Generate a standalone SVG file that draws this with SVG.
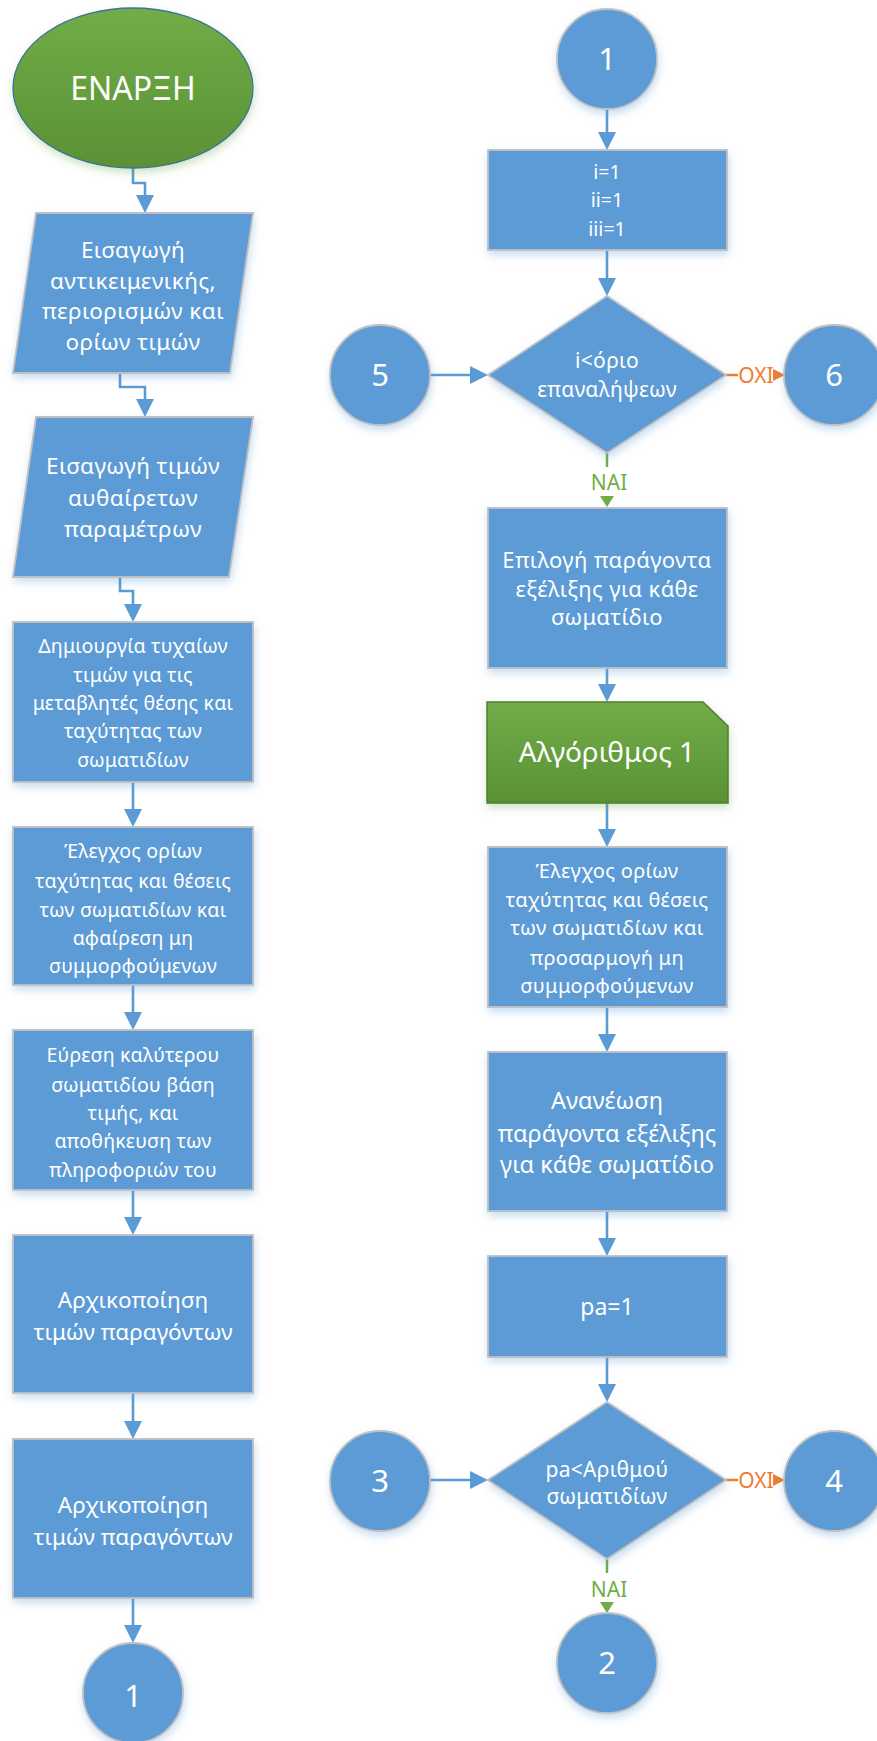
<svg xmlns="http://www.w3.org/2000/svg" width="877" height="1741" viewBox="0 0 877 1741">
<style>
.box{fill:#5B9BD5;stroke:#C0C0C0;stroke-width:1.8;filter:url(#sh)}
.t{fill:#FFFFFF;font-family:"Noto Sans","Open Sans",sans-serif;text-anchor:middle}
.c{fill:none;stroke:#5B9BD5;stroke-width:2.6;marker-end:url(#ab)}
.yes{fill:#70AD47;font-family:"Noto Sans","Open Sans",sans-serif;font-size:21px;text-anchor:middle}
.no{fill:#ED7D31;font-family:"Noto Sans","Open Sans",sans-serif;font-size:21px;text-anchor:middle}
</style>
<defs>
<filter id="sh" x="-20%" y="-20%" width="140%" height="150%">
<feDropShadow dx="1" dy="4" stdDeviation="4" flood-color="#5B9BD5" flood-opacity="0.35"/>
</filter>
<filter id="shg" x="-20%" y="-20%" width="140%" height="150%">
<feDropShadow dx="1" dy="4" stdDeviation="4" flood-color="#70AD47" flood-opacity="0.35"/>
</filter>
<linearGradient id="gg" x1="0" y1="0" x2="0" y2="1">
<stop offset="0" stop-color="#71AD47"/>
<stop offset="1" stop-color="#5A9135"/>
</linearGradient>
<marker id="ab" markerWidth="18" markerHeight="18" refX="2" refY="9" orient="auto" markerUnits="userSpaceOnUse">
<path d="M0,0 L18,9 L0,18 Z" fill="#5B9BD5"/>
</marker>
</defs>
<rect width="877" height="1741" fill="#FFFFFF"/>

<g id="connectors">
<path class="c" d="M133,168 V183 H145 V197"/>
<path class="c" d="M120,373 V387 H145 V401"/>
<path class="c" d="M120,577 V591 H133 V606"/>
<path class="c" d="M133,782 V811"/>
<path class="c" d="M133,985 V1014"/>
<path class="c" d="M133,1190 V1219"/>
<path class="c" d="M133,1393 V1423"/>
<path class="c" d="M133,1598 V1627"/>
<path class="c" d="M607,109 V134"/>
<path class="c" d="M607,250 V280"/>
<path class="c" d="M430,375 H472"/>
<path class="c" d="M607,668 V686"/>
<path class="c" d="M607,803 V831"/>
<path class="c" d="M607,1007 V1036"/>
<path class="c" d="M607,1211 V1240"/>
<path class="c" d="M607,1357 V1386"/>
<path class="c" d="M430,1480 H472"/>
<g id="no1">
<line x1="726" y1="375" x2="738" y2="375" stroke="#ED7D31" stroke-width="2.5"/>
<text class="no" x="756" y="383">OXI</text>
<polygon points="773,369 785,375 773,381" fill="#ED7D31"/>
</g>
<g id="yes1">
<line x1="607" y1="453" x2="607" y2="467" stroke="#70AD47" stroke-width="2.5"/>
<text class="yes" x="609" y="490">NAI</text>
<polygon points="600,496 614,496 607,507" fill="#70AD47"/>
</g>
<g id="no2">
<line x1="726" y1="1480" x2="738" y2="1480" stroke="#ED7D31" stroke-width="2.5"/>
<text class="no" x="756" y="1488">OXI</text>
<polygon points="773,1474 785,1480 773,1486" fill="#ED7D31"/>
</g>
<g id="yes2">
<line x1="607" y1="1559" x2="607" y2="1573" stroke="#70AD47" stroke-width="2.5"/>
<text class="yes" x="609" y="1597">NAI</text>
<polygon points="600,1602 614,1602 607,1613" fill="#70AD47"/>
</g>
</g>

<g id="start">
<ellipse cx="133" cy="88" rx="120" ry="80" fill="url(#gg)" stroke="#41719C" stroke-width="1.3" filter="url(#shg)"/>
<text class="t" x="133" y="100" font-size="32">ΕΝΑΡΞΗ</text>
</g>

<g id="input1">
<polygon class="box" points="36,213 253,213 230,373 13,373"/>
<text class="t" font-size="22.5" letter-spacing="0.4"><tspan x="133" y="258">Εισαγωγή</tspan><tspan x="133" y="289">αντικειμενικής,</tspan><tspan x="133" y="319">περιορισμών και</tspan><tspan x="133" y="350">ορίων τιμών</tspan></text>
</g>

<g id="input2">
<polygon class="box" points="36,417 253,417 229,577 13,577"/>
<text class="t" font-size="22.5" letter-spacing="0.4"><tspan x="133" y="474">Εισαγωγή τιμών</tspan><tspan x="133" y="506">αυθαίρετων</tspan><tspan x="133" y="537">παραμέτρων</tspan></text>
</g>

<g id="random">
<rect class="box" x="13" y="622" width="240" height="160"/>
<text class="t" font-size="19.5" letter-spacing="0.2"><tspan x="133" y="653">Δημιουργία τυχαίων</tspan><tspan x="133" y="682">τιμών για τις</tspan><tspan x="133" y="710">μεταβλητές θέσης και</tspan><tspan x="133" y="738">ταχύτητας των</tspan><tspan x="133" y="767">σωματιδίων</tspan></text>
</g>

<g id="check1">
<rect class="box" x="13" y="827" width="240" height="158"/>
<text class="t" font-size="19.5" letter-spacing="0.2"><tspan x="133" y="858">Έλεγχος ορίων</tspan><tspan x="133" y="888">ταχύτητας και θέσεις</tspan><tspan x="133" y="917">των σωματιδίων και</tspan><tspan x="133" y="945">αφαίρεση μη</tspan><tspan x="133" y="973">συμμορφούμενων</tspan></text>
</g>

<g id="best">
<rect class="box" x="13" y="1030" width="240" height="160"/>
<text class="t" font-size="19.5" letter-spacing="0.2"><tspan x="133" y="1062">Εύρεση καλύτερου</tspan><tspan x="133" y="1092">σωματιδίου βάση</tspan><tspan x="133" y="1120">τιμής, και</tspan><tspan x="133" y="1148">αποθήκευση των</tspan><tspan x="133" y="1177">πληροφοριών του</tspan></text>
</g>

<g id="init1">
<rect class="box" x="13" y="1235" width="240" height="158"/>
<text class="t" font-size="22.5"><tspan x="133" y="1308">Αρχικοποίηση</tspan><tspan x="133" y="1340">τιμών παραγόντων</tspan></text>
</g>

<g id="init2">
<rect class="box" x="13" y="1439" width="240" height="159"/>
<text class="t" font-size="22.5"><tspan x="133" y="1513">Αρχικοποίηση</tspan><tspan x="133" y="1545">τιμών παραγόντων</tspan></text>
</g>

<g id="conn1out">
<circle class="box" cx="133" cy="1693" r="50"/>
<text class="t" x="133" y="1707" font-size="31">1</text>
</g>

<g id="conn1in">
<circle class="box" cx="607" cy="59" r="50"/>
<text class="t" x="607" y="70" font-size="31">1</text>
</g>

<g id="initidx">
<rect class="box" x="488" y="150" width="239" height="100"/>
<text class="t" font-size="19.5"><tspan x="607" y="179">i=1</tspan><tspan x="607" y="207">ii=1</tspan><tspan x="607" y="236">iii=1</tspan></text>
</g>

<g id="dec1">
<path class="box" d="M607,296 L726,375 L607,453 L488,375 Z"/>
<text class="t" font-size="21" letter-spacing="0.3"><tspan x="607" y="368">i&lt;όριο</tspan><tspan x="607" y="397">επαναλήψεων</tspan></text>
</g>

<g id="conn5">
<circle class="box" cx="380" cy="375" r="50"/>
<text class="t" x="380" y="386" font-size="31">5</text>
</g>

<g id="conn6">
<circle class="box" cx="834" cy="375" r="50"/>
<text class="t" x="834" y="386" font-size="31">6</text>
</g>

<g id="select">
<rect class="box" x="488" y="508" width="239" height="160"/>
<text class="t" font-size="22" letter-spacing="0.4"><tspan x="607" y="568">Επιλογή παράγοντα</tspan><tspan x="607" y="597">εξέλιξης για κάθε</tspan><tspan x="607" y="625">σωματίδιο</tspan></text>
</g>

<g id="algo1">
<path d="M487,702 H703 L728,726 V803 H487 Z" fill="url(#gg)" stroke="#507E32" stroke-width="1.5" filter="url(#shg)"/>
<text class="t" x="607" y="762" font-size="28">Αλγόριθμος 1</text>
</g>

<g id="check2">
<rect class="box" x="488" y="847" width="239" height="160"/>
<text class="t" font-size="20" letter-spacing="0.3"><tspan x="607" y="878">Έλεγχος ορίων</tspan><tspan x="607" y="907">ταχύτητας και θέσεις</tspan><tspan x="607" y="935">των σωματιδίων και</tspan><tspan x="607" y="965">προσαρμογή μη</tspan><tspan x="607" y="993">συμμορφούμενων</tspan></text>
</g>

<g id="update">
<rect class="box" x="488" y="1052" width="239" height="159"/>
<text class="t" font-size="23.5"><tspan x="607" y="1109">Ανανέωση</tspan><tspan x="607" y="1142">παράγοντα εξέλιξης</tspan><tspan x="607" y="1173">για κάθε σωματίδιο</tspan></text>
</g>

<g id="pa">
<rect class="box" x="488" y="1256" width="239" height="101"/>
<text class="t" x="607" y="1315" font-size="23">pa=1</text>
</g>

<g id="dec2">
<path class="box" d="M607,1402 L726,1480 L607,1559 L488,1480 Z"/>
<text class="t" font-size="21" letter-spacing="0.3"><tspan x="607" y="1477">pa&lt;Αριθμού</tspan><tspan x="607" y="1504">σωματιδίων</tspan></text>
</g>

<g id="conn3">
<circle class="box" cx="380" cy="1481" r="50"/>
<text class="t" x="380" y="1492" font-size="31">3</text>
</g>

<g id="conn4">
<circle class="box" cx="834" cy="1481" r="50"/>
<text class="t" x="834" y="1492" font-size="31">4</text>
</g>

<g id="conn2">
<circle class="box" cx="607" cy="1663" r="50"/>
<text class="t" x="607" y="1674" font-size="31">2</text>
</g>
</svg>
